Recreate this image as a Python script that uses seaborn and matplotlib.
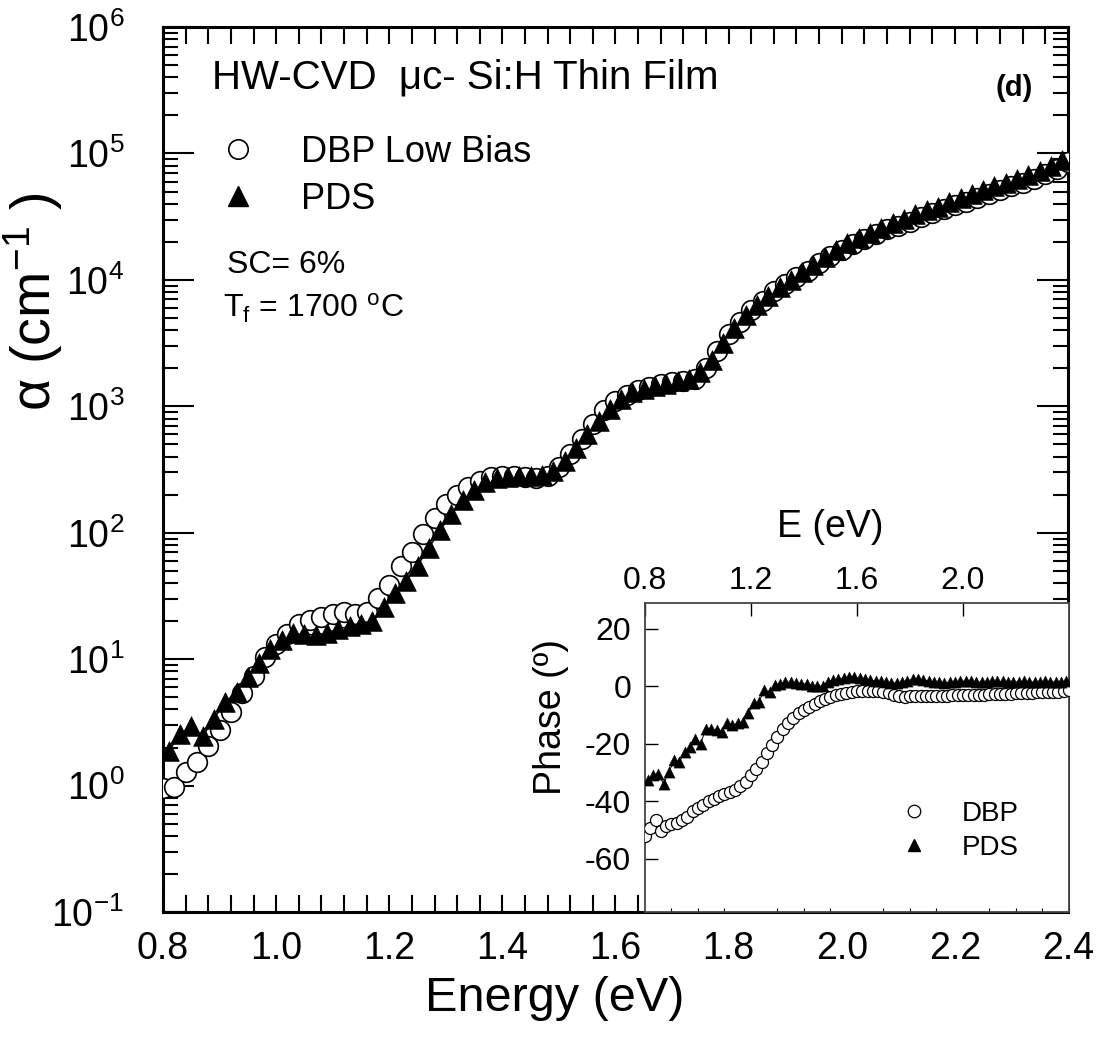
import numpy as np
import matplotlib
matplotlib.use("Agg")
import matplotlib.pyplot as plt
import seaborn as sns
from matplotlib.ticker import MultipleLocator, FixedLocator, LogLocator, FormatStrFormatter, NullFormatter
from matplotlib.lines import Line2D

# ---- main plot: absorption coefficient (log10 alpha) ----
energy_dbp = [0.80, 0.82, 0.84, 0.86, 0.88, 0.90, 0.92, 0.94, 0.96, 0.98,
              1.00, 1.02, 1.04, 1.06, 1.08, 1.10, 1.12, 1.14, 1.16, 1.18,
              1.20, 1.22, 1.24, 1.26, 1.28, 1.30, 1.32, 1.34, 1.36, 1.38,
              1.40, 1.42, 1.44, 1.46, 1.48, 1.50, 1.52, 1.54, 1.56, 1.58,
              1.60, 1.62, 1.64, 1.66, 1.68, 1.70, 1.72, 1.74, 1.76, 1.78,
              1.80, 1.82, 1.84, 1.86, 1.88, 1.90, 1.92, 1.94, 1.96, 1.98,
              2.00, 2.02, 2.04, 2.06, 2.08, 2.10, 2.12, 2.14, 2.16, 2.18,
              2.20, 2.22, 2.24, 2.26, 2.28, 2.30, 2.32, 2.34, 2.36, 2.38, 2.40]
log_alpha_dbp = [-0.02, -0.01, 0.11, 0.19, 0.31, 0.44, 0.58, 0.73, 0.87, 1.02,
                 1.12, 1.20, 1.28, 1.31, 1.33, 1.36, 1.37, 1.36, 1.37, 1.48,
                 1.59, 1.74, 1.85, 1.99, 2.12, 2.23, 2.30, 2.36, 2.41, 2.44,
                 2.45, 2.45, 2.44, 2.43, 2.45, 2.52, 2.62, 2.74, 2.86, 2.97,
                 3.04, 3.09, 3.13, 3.15, 3.18, 3.19, 3.20, 3.22, 3.30, 3.44,
                 3.57, 3.67, 3.76, 3.83, 3.91, 3.97, 4.02, 4.07, 4.13, 4.19,
                 4.24, 4.28, 4.32, 4.36, 4.40, 4.43, 4.46, 4.50, 4.53, 4.56,
                 4.59, 4.62, 4.65, 4.68, 4.71, 4.74, 4.77, 4.80, 4.84, 4.88, 4.93]

energy_pds = [0.81, 0.83, 0.85, 0.87, 0.89, 0.91, 0.93, 0.95, 0.97, 0.99,
              1.01, 1.03, 1.05, 1.07, 1.09, 1.11, 1.13, 1.15, 1.17, 1.19,
              1.21, 1.23, 1.25, 1.27, 1.29, 1.31, 1.33, 1.35, 1.37, 1.39,
              1.41, 1.43, 1.45, 1.47, 1.49, 1.51, 1.53, 1.55, 1.57, 1.59,
              1.61, 1.63, 1.65, 1.67, 1.69, 1.71, 1.73, 1.75, 1.77, 1.79,
              1.81, 1.83, 1.85, 1.87, 1.89, 1.91, 1.93, 1.95, 1.97, 1.99,
              2.01, 2.03, 2.05, 2.07, 2.09, 2.11, 2.13, 2.15, 2.17, 2.19,
              2.21, 2.23, 2.25, 2.27, 2.29, 2.31, 2.33, 2.35, 2.37, 2.39]
log_alpha_pds = [0.27, 0.41, 0.47, 0.39, 0.53, 0.66, 0.74, 0.86, 0.97, 1.08,
                 1.15, 1.21, 1.20, 1.19, 1.21, 1.24, 1.26, 1.28, 1.30, 1.41,
                 1.52, 1.62, 1.74, 1.88, 2.02, 2.15, 2.26, 2.34, 2.40, 2.43,
                 2.44, 2.45, 2.45, 2.46, 2.49, 2.57, 2.67, 2.78, 2.88, 2.98,
                 3.06, 3.11, 3.14, 3.16, 3.18, 3.20, 3.22, 3.27, 3.37, 3.50,
                 3.62, 3.72, 3.80, 3.87, 3.94, 4.00, 4.06, 4.12, 4.18, 4.24,
                 4.29, 4.33, 4.37, 4.41, 4.45, 4.48, 4.52, 4.55, 4.58, 4.62,
                 4.65, 4.68, 4.71, 4.74, 4.77, 4.80, 4.83, 4.86, 4.90, 4.95]

# ---- inset: phase (degrees) ----
phase_dbp = [-52.0, -49.5, -46.5, -50.5, -48.5, -48.0, -47.5, -46.5, -45.5, -43.5,
             -42.3, -41.2, -40.0, -39.2, -38.3, -37.6, -37.0, -36.0, -34.8, -33.2,
             -31.0, -29.0, -26.4, -23.3, -20.5, -17.6, -14.8, -12.8, -11.0, -9.5,
             -8.3, -7.2, -6.1, -5.2, -4.4, -3.7, -3.1, -2.7, -2.3, -2.0,
             -1.8, -1.7, -1.6, -1.6, -1.7, -1.9, -2.4, -3.1, -3.6, -3.8,
             -3.6, -3.4, -3.3, -3.4, -3.6, -3.6, -3.5, -3.3, -3.2, -3.1,
             -3.2, -3.2, -3.1, -3.0, -3.0, -2.9, -2.8, -2.7, -2.7, -2.6,
             -2.5, -2.5, -2.4, -2.3, -2.2, -2.1, -2.0, -2.0, -1.9, -1.7, -1.5]
phase_pds = [-32.8, -31.0, -30.5, -34.0, -29.9, -25.8, -26.4, -22.9, -21.2, -18.3,
             -20.0, -14.8, -15.1, -15.3, -15.9, -12.8, -13.6, -13.0, -12.4, -9.5,
             -6.0, -5.5, -1.4, -2.0, 0.3, 0.9, 1.5, 1.3, 1.2, 0.9,
             0.7, 0.0, 0.1, 0.0, 1.5, 2.1, 2.3, 2.7, 3.3, 3.0,
             2.7, 2.3, 2.0, 1.8, 1.7, 1.5, 1.2, 1.0, 1.4, 1.9,
             2.3, 2.6, 2.2, 1.8, 1.5, 1.3, 1.2, 1.3, 1.5, 1.7,
             1.8, 1.7, 1.5, 1.4, 1.5, 1.6, 1.7, 1.6, 1.5, 1.4,
             1.5, 1.6, 1.5, 1.4, 1.5, 1.6, 1.5, 1.4, 1.5, 1.6]

inset_ticks = [0.8, 1.2, 1.6, 2.0]

alpha_dbp = 10 ** np.array(log_alpha_dbp)
alpha_pds = 10 ** np.array(log_alpha_pds)

sns.set_style("white")
plt.rcParams['font.family'] = ['Liberation Sans', 'DejaVu Sans']
plt.rcParams['mathtext.fontset'] = 'custom'
plt.rcParams['mathtext.rm'] = 'Liberation Sans'
plt.rcParams['mathtext.it'] = 'Liberation Sans:italic'
plt.rcParams['mathtext.default'] = 'regular'
plt.rcParams['axes.unicode_minus'] = False
for key in ['text.color', 'axes.labelcolor', 'xtick.color', 'ytick.color']:
    plt.rcParams[key] = 'black'

fig = plt.figure(figsize=(11.09, 10.44), dpi=100)
ax = fig.add_axes([0.147, 0.1264, 0.816, 0.8477])

sns.lineplot(x=energy_pds, y=alpha_pds, ax=ax, color='black', lw=1.0,
             estimator=None, sort=False, legend=False, zorder=2)
sns.scatterplot(x=energy_dbp, y=alpha_dbp, ax=ax, marker='o', s=200,
                color='white', edgecolor='black', linewidth=1.2, zorder=3)
sns.scatterplot(x=energy_pds, y=alpha_pds, ax=ax, marker='^', s=200,
                color='black', edgecolor='black', linewidth=0.5, zorder=4)

ax.set_yscale('log')
ax.set_xlim(0.8, 2.4)
ax.set_ylim(0.1, 1e6)
ax.xaxis.set_major_locator(MultipleLocator(0.2))
ax.xaxis.set_minor_locator(MultipleLocator(0.04))
ax.xaxis.set_major_formatter(FormatStrFormatter('%.1f'))
ax.yaxis.set_major_locator(LogLocator(base=10, numticks=20))
ax.yaxis.set_minor_locator(LogLocator(base=10, subs=np.arange(2, 10), numticks=20))
ax.yaxis.set_minor_formatter(NullFormatter())
ax.tick_params(axis='x', which='both', direction='in', top=True, bottom=True,
               length=12, width=1.5, labelsize=27, pad=14)
ax.tick_params(axis='y', which='major', direction='in', left=True, right=True,
               length=22, width=1.5, labelsize=27, pad=28)
ax.tick_params(axis='y', which='minor', direction='in', left=True, right=True,
               length=11, width=1.5)
for sp in ax.spines.values():
    sp.set_linewidth(2.2)
    sp.set_color('black')

ax.set_xlabel('Energy (eV)', fontsize=35)
ax.xaxis.set_label_coords(0.433, -0.072)
ax.set_ylabel(r'$\alpha$ (cm$^{-1}$ )', fontsize=40)
ax.yaxis.set_label_coords(-0.108, 0.69)

ax.text(0.054, 0.930, 'HW-CVD  μc- Si:H Thin Film', transform=ax.transAxes,
        fontsize=29, va='baseline', ha='left')
ax.text(0.941, 0.931, '(d)', transform=ax.transAxes, fontsize=21,
        fontweight='bold', va='center', ha='center')
ax.text(0.071, 0.722, 'SC= 6%', transform=ax.transAxes, fontsize=23,
        va='baseline', ha='left')
ax.text(0.066, 0.671, 'T$_{f}$ = 1700 $^{o}$C', transform=ax.transAxes,
        fontsize=23, va='baseline', ha='left')

h_dbp = Line2D([], [], ls='none', marker='o', ms=14, mfc='white', mec='black', mew=1.2)
h_pds = Line2D([], [], ls='none', marker='^', ms=14, mfc='black', mec='black')
ax.legend([h_dbp, h_pds], ['DBP Low Bias', 'PDS'], loc='upper left',
          bbox_to_anchor=((220 - 163) / 905, 0.878), frameon=False, fontsize=26,
          handlelength=1.0, handletextpad=1.25, labelspacing=0.33, borderpad=0,
          borderaxespad=0)

# ---- inset ----
ax_in = fig.add_axes([0.5816, 0.1264, 0.3823, 0.296])
ax_in.set_zorder(10)
ax_in.set_facecolor('white')
sns.lineplot(x=energy_pds, y=phase_pds, ax=ax_in, color='black', lw=0.7,
             estimator=None, sort=False, legend=False, zorder=2)
sns.scatterplot(x=energy_dbp, y=phase_dbp, ax=ax_in, marker='o', s=75,
                color='white', edgecolor='black', linewidth=0.9, zorder=3)
sns.scatterplot(x=energy_pds, y=phase_pds, ax=ax_in, marker='^', s=65,
                color='black', edgecolor='black', linewidth=0.3, zorder=4)
ax_in.set_xlim(0.8, 2.4)
ax_in.set_ylim(-78.6, 28.9)
ax_in.xaxis.tick_top()
ax_in.xaxis.set_label_position('top')
ax_in.xaxis.set_major_locator(FixedLocator(inset_ticks))
ax_in.xaxis.set_minor_locator(MultipleLocator(0.1))
ax_in.xaxis.set_major_formatter(FormatStrFormatter('%.1f'))
ax_in.yaxis.set_major_locator(MultipleLocator(20))
ax_in.tick_params(axis='x', which='major', direction='in', top=True, bottom=False,
                  length=9, width=1.0, labelsize=23, pad=5)
ax_in.tick_params(axis='x', which='minor', direction='in', top=False, bottom=True,
                  length=3, width=0.8)
ax_in.tick_params(axis='y', which='major', direction='in', left=True, right=False,
                  length=9, width=1.0, labelsize=23, pad=10)
for sp in ax_in.spines.values():
    sp.set_linewidth(1.3)
    sp.set_color('#444444')
ax_in.set_xlabel('E (eV)', fontsize=27)
ax_in.xaxis.set_label_coords(0.436, 1.215)
ax_in.set_ylabel('Phase (º)', fontsize=27)
ax_in.yaxis.set_label_coords(-0.18, 0.63)

hi_dbp = Line2D([], [], ls='none', marker='o', ms=9, mfc='white', mec='black', mew=0.9)
hi_pds = Line2D([], [], ls='none', marker='^', ms=9, mfc='black', mec='black')
ax_in.legend([hi_dbp, hi_pds], ['DBP', 'PDS'], loc='upper left',
             bbox_to_anchor=(0.602, 0.36), frameon=False, fontsize=20,
             handlelength=1.0, handletextpad=1.2, labelspacing=0.3, borderpad=0,
             borderaxespad=0)

fig.savefig('out.png', dpi=100)
